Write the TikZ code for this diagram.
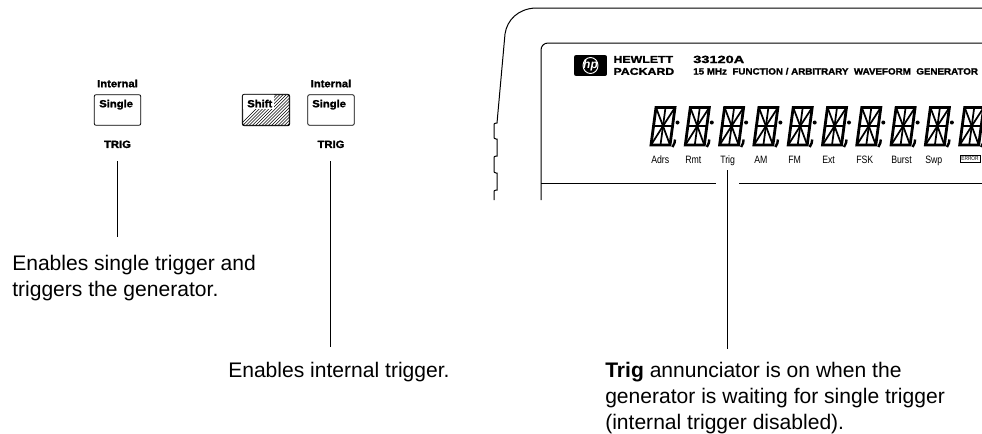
\documentclass[tikz,border=0pt]{standalone}
\usepackage{fontspec}
\setmainfont{Liberation Sans}
\newfontfamily\keyfont[FakeStretch=1.08,BoldFeatures={FakeBold=1.6}]{Liberation Sans}
\newfontfamily\lcdfont[FakeStretch=0.82]{Liberation Sans}
\newfontfamily\hpfont[FakeStretch=1.25,BoldFeatures={FakeBold=1.6}]{Liberation Sans}
\newfontfamily\modelfont[FakeStretch=1.4,BoldFeatures={FakeBold=1.6}]{Liberation Sans}
\usetikzlibrary{positioning}
\begin{document}
\begin{tikzpicture}[x=0.75pt,y=-0.75pt,node distance=4pt and 10pt,
  keybox/.style={rectangle, rounded corners=1.5pt, draw=black, line width=0.6pt, minimum width=35pt,
                 minimum height=23pt, inner sep=0pt},
  keytext/.style={font=\keyfont\bfseries\fontsize{7.8}{8}\selectfont, inner sep=0pt},
  capt/.style={font=\fontsize{15.8}{19.5}\selectfont, align=left, inner sep=0pt, anchor=north west},
  leader/.style={line width=0.6pt, black},
  panel/.style={line width=0.75pt, black},
  lcd/.style={font=\lcdfont\fontsize{8}{9}\selectfont, inner sep=0pt, anchor=base west},
  seg/.style={line width=1.3pt, black, line join=miter}
]
  \useasboundingbox (0,0) rectangle (982,433);

  % front panel outline
  \draw[panel] (982,8) -- (535,8) .. controls (518,9) and (507,20) .. (505,34) -- (497,123)
    -- (496,123) .. controls (494,123) and (494,124) .. (494,126) -- (494,136)
    .. controls (494,138) and (494,139) .. (496,139) -- (497,139) -- (497,156) -- (496,156)
    .. controls (494,156) and (494,157) .. (494,159) -- (494,170)
    .. controls (494,172) and (494,173) .. (496,173) -- (497,173) -- (497,190) -- (496,190)
    .. controls (494,190) and (494,191) .. (494,193) -- (494,200);
  \draw[panel] (982,43) -- (548,43) .. controls (544,43) and (541,46) .. (541,50) -- (541,200);
  \draw[panel] (541,183) -- (716,183);
  \draw[panel] (739,183) -- (982,183);

  % logo
  \node[fill=black, rounded corners=1.5pt, minimum width=24.7pt, minimum height=15.7pt, inner sep=0pt] (logo) at (590.5,65.5) {};
  \draw[white, line width=0.7pt] (logo.center) ellipse (7.5 and 8);
  \node[font=\bfseries\itshape\fontsize{9}{9}\selectfont, white, inner sep=0pt] (hp) at (logo.center) {hp};
  \node[font=\hpfont\bfseries\fontsize{7.4}{9}\selectfont, align=left, inner sep=0pt, right=4.5pt of logo] (hpname) {HEWLETT\\PACKARD};
  \node[font=\modelfont\bfseries\fontsize{7.8}{8}\selectfont, inner sep=0pt, anchor=base west] (model) at (693,63) {33120A};
  \node[font=\keyfont\bfseries\fontsize{6.8}{7}\selectfont, inner sep=0pt, anchor=base west] (title) at (693,74.5)
       {15 MHz\ \ FUNCTION / ARBITRARY\ \ WAVEFORM\ \ GENERATOR};

  % display digits
  \foreach \dx in {0,34.3,...,310}{
    \begin{scope}[shift={(\dx,0)}]
      \draw[seg, line width=2.1pt] (656,107.5) -- (675,107.5) -- (670,145) -- (651,145) -- cycle;
      \draw[seg] (653.5,126) -- (672.5,126);
      \draw[seg] (665.5,107.5) -- (660.5,145);
      \draw[seg] (656,107.5) -- (663,126) -- (651,145);
      \draw[seg] (675,107.5) -- (663,126) -- (670,145);
      \fill (677.5,122.5) circle (2);
      \draw[line width=1.8pt] (675,139.5) -- (674.5,143) -- (672.5,147);
    \end{scope}
  }
  \node[lcd] (adrs) at (651,163) {Adrs};
  \node[lcd] (rmt) at (685,163) {Rmt};
  \node[lcd] (trig) at (720,163) {Trig};
  \node[lcd] (am) at (754,163) {AM};
  \node[lcd] (fm) at (788,163) {FM};
  \node[lcd] (ext) at (822,163) {Ext};
  \node[lcd] (fsk) at (856,163) {FSK};
  \node[lcd] (burst) at (891,163) {Burst};
  \node[lcd] (swp) at (925,163) {Swp};
  \node[draw=black, line width=0.4pt, font=\lcdfont\fontsize{4.4}{5}\selectfont, inner xsep=0.8pt, inner ysep=0.9pt, anchor=west] (error) at (960,158.5) {ERROR};

  % keys
  \node[keybox] (singleA) at (117.5,110) {};
  \node[keytext, anchor=north west] at (99,99.5) {Single};
  \node[keytext, above=5pt of singleA] (intA) {Internal};
  \node[keytext, below=11pt of singleA] (trigA) {TRIG};

  \node[keybox] (shift) at (266,110) {};
  \begin{scope}
    \clip[rounded corners=1.5pt] (shift.south west) rectangle (shift.north east);
    \foreach \hx in {0,3.2,...,90}
      \draw[line width=0.4pt] (238+\hx,127) -- (238+\hx+32,95);
    \fill[white] (243,94) rectangle (274,109);
  \end{scope}
  \draw[keybox, fill=none] (shift.south west) rectangle (shift.north east);
  \node[keytext, anchor=north west] at (247,99.5) {Shift};

  \node[keybox] (singleB) at (331,110) {};
  \node[keytext, anchor=north west] at (312,99.5) {Single};
  \node[keytext, above=5pt of singleB] (intB) {Internal};
  \node[keytext, below=11pt of singleB] (trigB) {TRIG};

  % captions
  \node[capt] (captA) at (12,254.7) {Enables single trigger and\\triggers the generator.};
  \node[capt] (captB) at (228,361.7) {Enables internal trigger.};
  \node[capt] (captC) at (605,361.7) {\textbf{Trig} annunciator is on when the\\generator is waiting for single trigger\\(internal trigger disabled).};

  % leaders
  \coordinate (topA) at (117.5,161);
  \coordinate (endA) at (117.5,237);
  \coordinate (topB) at (330,161);
  \coordinate (endB) at (330,347);
  \coordinate (topC) at (727,170);
  \coordinate (endC) at (727,349);
  \draw[leader] (topA) -- (endA);
  \draw[leader] (topB) -- (endB);
  \draw[leader] (topC) -- (endC);
\end{tikzpicture}
\end{document}
